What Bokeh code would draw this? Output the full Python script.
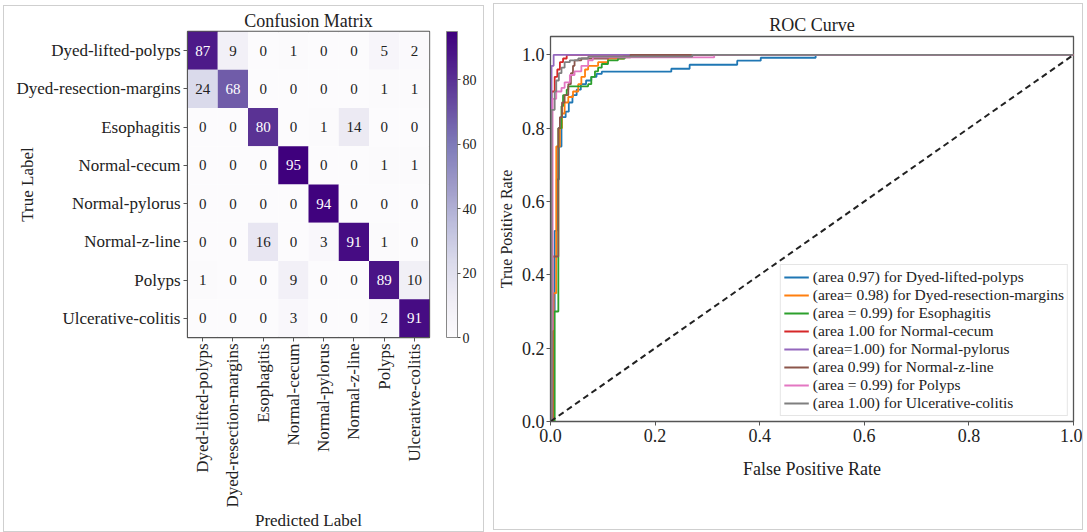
import math
from bokeh.plotting import figure
from bokeh.models import (ColumnDataSource, LinearColorMapper, ColorBar, FixedTicker,
                          FactorRange, Range1d, PrintfTickFormatter)
from bokeh.palettes import Purples256
from bokeh.layouts import row, column
from bokeh.embed import file_html
from bokeh.resources import INLINE
from bokeh.core.properties import value

# ---------------- data ----------------
classes = ["Dyed-lifted-polyps", "Dyed-resection-margins", "Esophagitis", "Normal-cecum",
           "Normal-pylorus", "Normal-z-line", "Polyps", "Ulcerative-colitis"]

cm_dyed_lifted = [87, 9, 0, 1, 0, 0, 5, 2]
cm_dyed_resection = [24, 68, 0, 0, 0, 0, 1, 1]
cm_esophagitis = [0, 0, 80, 0, 1, 14, 0, 0]
cm_normal_cecum = [0, 0, 0, 95, 0, 0, 1, 1]
cm_normal_pylorus = [0, 0, 0, 0, 94, 0, 0, 0]
cm_normal_z_line = [0, 0, 16, 0, 3, 91, 1, 0]
cm_polyps = [1, 0, 0, 9, 0, 0, 89, 10]
cm_ulcerative = [0, 0, 0, 3, 0, 0, 2, 91]
cm_rows = [cm_dyed_lifted, cm_dyed_resection, cm_esophagitis, cm_normal_cecum,
           cm_normal_pylorus, cm_normal_z_line, cm_polyps, cm_ulcerative]

cbar_ticks = [0, 20, 40, 60, 80]
cbar_max = 95

roc_labels = ["(area 0.97) for Dyed-lifted-polyps",
              "(area= 0.98) for Dyed-resection-margins",
              "(area = 0.99) for Esophagitis",
              "(area 1.00 for Normal-cecum",
              "(area=1.00) for Normal-pylorus",
              "(area 0.99) for Normal-z-line",
              "(area = 0.99) for Polyps",
              "(area 1.00) for Ulcerative-colitis"]
roc_colors = ["#1f77b4", "#ff7f0e", "#2ca02c", "#d62728", "#9467bd", "#8c564b", "#e377c2", "#7f7f7f"]

# step points: at fpr[i] the curve rises to tpr[i], then runs flat to fpr[i+1]
fpr_dyed_lifted = [0, 0.004, 0.008, 0.012, 0.016, 0.021, 0.029, 0.035, 0.042, 0.050, 0.058, 0.068,
                   0.078, 0.088, 0.098, 0.231, 0.266, 0.357, 0.402, 0.507, 1.0]
tpr_dyed_lifted = [0, 0.30, 0.52, 0.66, 0.75, 0.83, 0.845, 0.87, 0.89, 0.905, 0.92, 0.93,
                   0.94, 0.948, 0.954, 0.962, 0.973, 0.984, 0.992, 1.0, 1.0]
fpr_dyed_resection = [0, 0.006, 0.011, 0.018, 0.022, 0.027, 0.034, 0.043, 0.053, 0.059, 0.066,
                      0.072, 0.091, 0.110, 0.140, 1.0]
tpr_dyed_resection = [0, 0.35, 0.75, 0.80, 0.84, 0.87, 0.885, 0.90, 0.92, 0.94, 0.96,
                      0.97, 0.98, 0.99, 1.0, 1.0]
fpr_esophagitis = [0, 0.008, 0.015, 0.021, 0.024, 0.031, 0.034, 0.072, 0.078, 0.085, 0.091,
                   0.098, 0.110, 0.129, 0.142, 1.0]
tpr_esophagitis = [0, 0.30, 0.80, 0.86, 0.89, 0.905, 0.914, 0.92, 0.94, 0.955, 0.965,
                   0.975, 0.985, 0.99, 1.0, 1.0]
fpr_normal_cecum = [0, 0.002, 0.008, 0.013, 0.018, 0.024, 0.031, 1.0]
tpr_normal_cecum = [0, 0.90, 0.94, 0.96, 0.98, 0.99, 1.0, 1.0]
fpr_normal_pylorus = [0, 0.002, 0.006, 1.0]
tpr_normal_pylorus = [0, 0.97, 1.0, 1.0]
fpr_normal_z_line = [0, 0.004, 0.015, 0.018, 0.022, 0.027, 0.034, 0.039, 0.043, 0.046, 0.059,
                     0.110, 0.153, 1.0]
tpr_normal_z_line = [0, 0.45, 0.80, 0.83, 0.87, 0.89, 0.92, 0.95, 0.97, 0.985, 0.99,
                     0.993, 1.0, 1.0]
fpr_polyps = [0, 0.002, 0.004, 0.011, 0.021, 0.027, 0.037, 0.046, 0.059, 0.072, 0.081, 0.313, 1.0]
tpr_polyps = [0, 0.25, 0.88, 0.90, 0.91, 0.925, 0.945, 0.955, 0.97, 0.985, 0.993, 1.0, 1.0]
fpr_ulcerative = [0, 0.002, 0.008, 0.011, 0.016, 0.021, 0.027, 0.037, 0.053, 0.072, 0.271, 1.0]
tpr_ulcerative = [0, 0.85, 0.90, 0.93, 0.95, 0.965, 0.98, 0.985, 0.99, 0.995, 1.0, 1.0]

roc_fpr = [fpr_dyed_lifted, fpr_dyed_resection, fpr_esophagitis, fpr_normal_cecum,
           fpr_normal_pylorus, fpr_normal_z_line, fpr_polyps, fpr_ulcerative]
roc_tpr = [tpr_dyed_lifted, tpr_dyed_resection, tpr_esophagitis, tpr_normal_cecum,
           tpr_normal_pylorus, tpr_normal_z_line, tpr_polyps, tpr_ulcerative]

chance_x = [0, 1]
chance_y = [0, 1]
roc_ticks = [0.0, 0.2, 0.4, 0.6, 0.8, 1.0]

FONT = "Liberation Serif"
TXT = "#222222"
FRAME = "#555555"

# ---------------- confusion matrix ----------------
xs, ys, vals = [], [], []
for i, t in enumerate(classes):
    for j, pc in enumerate(classes):
        xs.append(pc)
        ys.append(t)
        vals.append(cm_rows[i][j])
tcolors = ["white" if v > cbar_max / 2 else TXT for v in vals]
src = ColumnDataSource(dict(x=xs, y=ys, v=vals, tc=tcolors, label=[str(v) for v in vals]))

mapper = LinearColorMapper(palette=list(reversed(Purples256)), low=0, high=cbar_max)

p1 = figure(width=481, height=527, x_range=FactorRange(*classes),
            y_range=FactorRange(*reversed(classes)), output_backend="svg",
            toolbar_location=None, min_border_left=183, min_border_right=56,
            min_border_top=25, min_border_bottom=194, title="Confusion Matrix")
p1.rect(x="x", y="y", width=1, height=1, source=src,
        fill_color={"field": "v", "transform": mapper}, line_color=None)
p1.text(x="x", y="y", text="label", source=src, text_color="tc", text_align="center",
        text_baseline="middle", text_font=value(FONT), text_font_size="15px")

p1.xaxis.major_label_orientation = math.pi / 2
p1.xaxis.axis_label = "Predicted Label"
p1.yaxis.axis_label = "True Label"

cb = ColorBar(color_mapper=mapper, ticker=FixedTicker(ticks=cbar_ticks), width=11,
              padding=0, margin=0, location=(17, 0),
              major_label_text_font=FONT, major_label_text_font_size="14px",
              major_label_text_color=TXT, major_tick_in=0, major_tick_out=3,
              major_tick_line_color=FRAME, bar_line_color="#888888", label_standoff=2,
              minor_tick_line_color=None)
p1.add_layout(cb, "right")

# ---------------- ROC ----------------
p2 = figure(width=590, height=527, x_range=Range1d(0, 1), y_range=Range1d(0, 1.05),
            output_backend="svg", toolbar_location=None, title="ROC Curve",
            min_border_left=56, min_border_right=11, min_border_top=32, min_border_bottom=110)
for fx, ty, col, lab in zip(roc_fpr, roc_tpr, roc_colors, roc_labels):
    p2.step(fx, ty, mode="after", line_color=col, line_width=1.8, legend_label=lab)
p2.line(chance_x, chance_y, line_color="#222222", line_width=2, line_dash="6 4")
p2.xaxis.ticker = FixedTicker(ticks=roc_ticks)
p2.yaxis.ticker = FixedTicker(ticks=roc_ticks)
p2.xaxis.formatter = PrintfTickFormatter(format="%.1f")
p2.yaxis.formatter = PrintfTickFormatter(format="%.1f")
p2.xaxis.axis_label = "False Positive Rate"
p2.yaxis.axis_label = "True Positive Rate"

lg = p2.legend[0]
lg.location = "bottom_right"
lg.margin = 5
lg.padding = 3
lg.spacing = 0
lg.label_height = 18
lg.glyph_height = 18
lg.glyph_width = 25
lg.label_standoff = 4
lg.label_text_font = FONT
lg.label_text_font_size = "15.5px"
lg.label_text_color = TXT
lg.border_line_color = "#cccccc"
lg.background_fill_alpha = 0.85

for p, lblsize, ticksize in [(p1, "17px", "17px"), (p2, "18px", "18px")]:
    p.grid.visible = False
    p.outline_line_color = FRAME
    p.outline_line_width = 1.3
    p.title.text_font = FONT
    p.title.text_font_size = "18px"
    p.title.text_font_style = "normal"
    p.title.text_color = TXT
    p.title.align = "center"
    p.title.standoff = 2
    for ax in list(p.xaxis) + list(p.yaxis):
        ax.major_label_text_font = FONT
        ax.major_label_text_font_size = ticksize
        ax.major_label_text_color = TXT
        ax.axis_label_text_font = FONT
        ax.axis_label_text_font_size = lblsize
        ax.axis_label_text_font_style = "normal"
        ax.axis_label_text_color = TXT
        ax.major_tick_out = 4
        ax.major_tick_in = 0
        ax.minor_tick_line_color = None
        ax.major_tick_line_color = FRAME
        ax.axis_line_color = FRAME
        ax.major_label_standoff = 3
    p.styles = {"border": "1.5px solid #cfcfcf"}

p1.xaxis.major_label_standoff = 2
p1.xaxis.axis_label_standoff = 1
p1.yaxis.axis_label_standoff = -23
p1.title.offset = 14
p2.title.offset = -17
p2.title.standoff = 3
p2.yaxis.major_label_standoff = 2
p2.yaxis.axis_label_text_font_size = "16px"
p2.yaxis.axis_label_standoff = 4
p2.xaxis.axis_label_standoff = 14

p1.margin = (5, 0, 0, 3)
p2.margin = (3, 0, 0, 0)
layout = row(column(p1), column(p2), spacing=9)

open("out.html", "w").write(file_html(layout, INLINE))
